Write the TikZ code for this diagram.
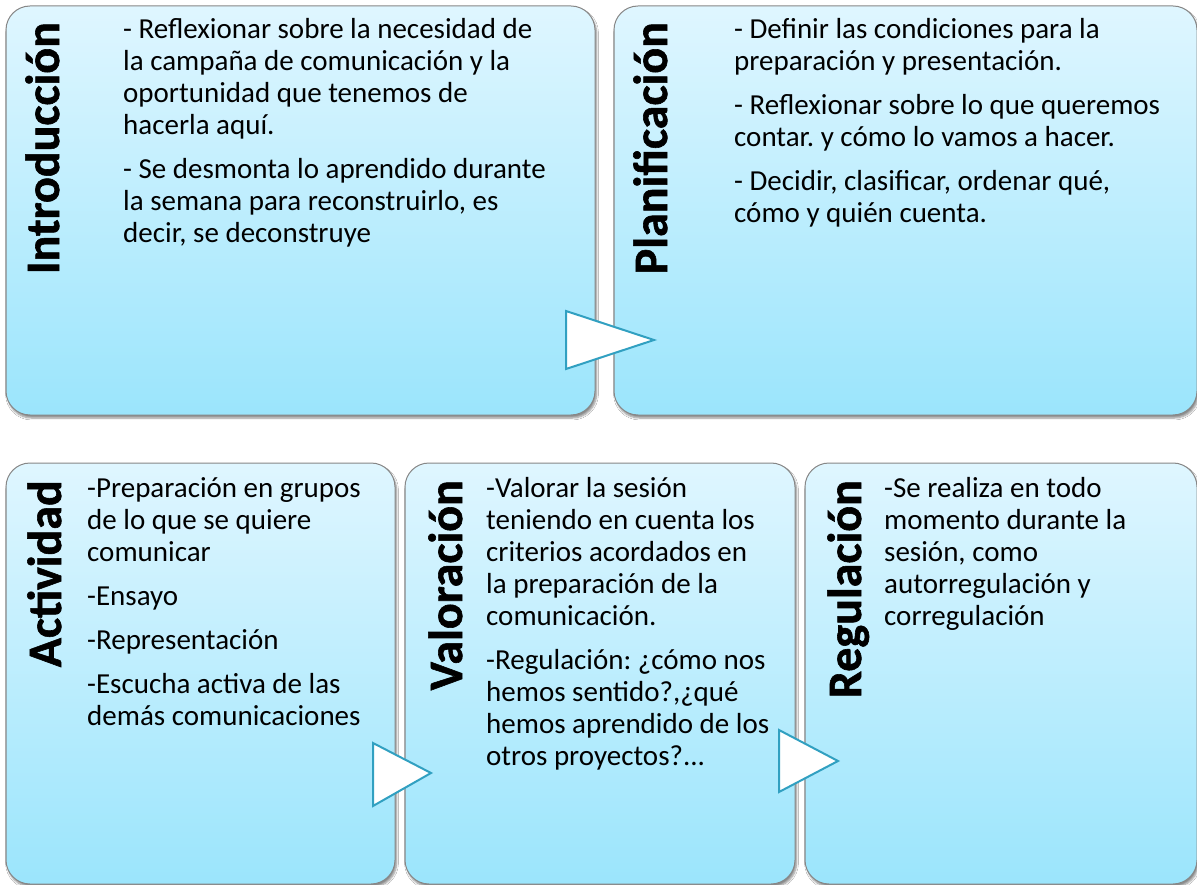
\documentclass[tikz,border=0pt]{standalone}
\usepackage{fontspec}
\setmainfont{Carlito}
\newfontfamily\titlefont{Carlito}[UprightFeatures={FakeBold=0}, BoldFeatures={FakeBold=1.2}]
\usetikzlibrary{shadows.blur}
\definecolor{boxtop}{RGB}{223,246,255}
\definecolor{boxbot}{RGB}{155,229,252}
\definecolor{boxline}{RGB}{135,135,135}
\definecolor{arrowline}{RGB}{49,160,193}
\tikzset{
 stagebox/.style={draw=boxline, line width=1pt, rounded corners=24pt, inner sep=0pt,
   top color=boxtop, bottom color=boxbot,
   blur shadow={shadow xshift=1.5pt, shadow yshift=-3pt, shadow opacity=45, shadow blur steps=6}},
 stagetitle/.style={rotate=90, anchor=base east, inner sep=0pt, font=\titlefont\fontsize{48}{56}\selectfont\bfseries},
 stagetext/.style={anchor=north west, inner sep=0pt, align=left, font=\fontsize{29}{32}\selectfont\frenchspacing},
 flowarrow/.style={draw=arrowline, line width=2pt, fill=white, line join=miter}
}
\begin{document}
\begin{tikzpicture}[x=1pt,y=-1pt]
\useasboundingbox[fill=white] (0,0) rectangle (1197,885);
% boxes
\node[stagebox, minimum width=589pt, minimum height=409pt] (b1) at (300.5,210.5) {};
\node[stagebox, minimum width=583pt, minimum height=409pt] (b2) at (905.5,210.5) {};
\node[stagebox, minimum width=389pt, minimum height=421pt] (b3) at (200.5,673.5) {};
\node[stagebox, minimum width=390pt, minimum height=421pt] (b4) at (600,673.5) {};
\node[stagebox, minimum width=392pt, minimum height=421pt] (b5) at (1001,673.5) {};
% arrows
\draw[flowarrow] (566,311) -- (566,369) -- (654,340) -- cycle;
\draw[flowarrow] (373,743) -- (373,806) -- (431,773) -- cycle;
\draw[flowarrow] (779,730) -- (779,792) -- (838,761) -- cycle;
% titles
\node[stagetitle] (t1) at (59,22) {Introducción};
\node[stagetitle] (t2) at (667,22) {Planificación};
\node[stagetitle] (t3) at (61,480) {Actividad};
\node[stagetitle] (t4) at (462,480) {Valoración};
\node[stagetitle] (t5) at (861,480) {Regulación};
% texts
\node[stagetext] (x1) at (123,15.6) {\strut - Reflexionar sobre la necesidad de\\
la campaña de comunicación y la\\
oportunidad que tenemos de\\
hacerla aquí.\\[12pt]
- Se desmonta lo aprendido durante\\
la semana para reconstruirlo, es\\
decir, se deconstruye};
\node[stagetext] (x2) at (734,15.6) {\strut - Definir las condiciones para la\\
preparación y presentación.\\[12pt]
- Reflexionar sobre lo que queremos\\
contar. y cómo lo vamos a hacer.\\[12pt]
- Decidir, clasificar, ordenar qué,\\
cómo y quién cuenta.};
\node[stagetext] (x3) at (87,474.6) {\strut -Preparación en grupos\\
de lo que se quiere\\
comunicar\\[12pt]
-Ensayo\\[12pt]
-Representación\\[12pt]
-Escucha activa de las\\
demás comunicaciones};
\node[stagetext] (x4) at (486,474.6) {\strut -Valorar la sesión\\
teniendo en cuenta los\\
criterios acordados en\\
la preparación de la\\
comunicación.\\[12pt]
-Regulación: ¿cómo nos\\
hemos sentido?,¿qué\\
hemos aprendido de los\\
otros proyectos?...};
\node[stagetext] (x5) at (884,474.6) {\strut -Se realiza en todo\\
momento durante la\\
sesión, como\\
autorregulación y\\
corregulación};
\end{tikzpicture}
\end{document}
